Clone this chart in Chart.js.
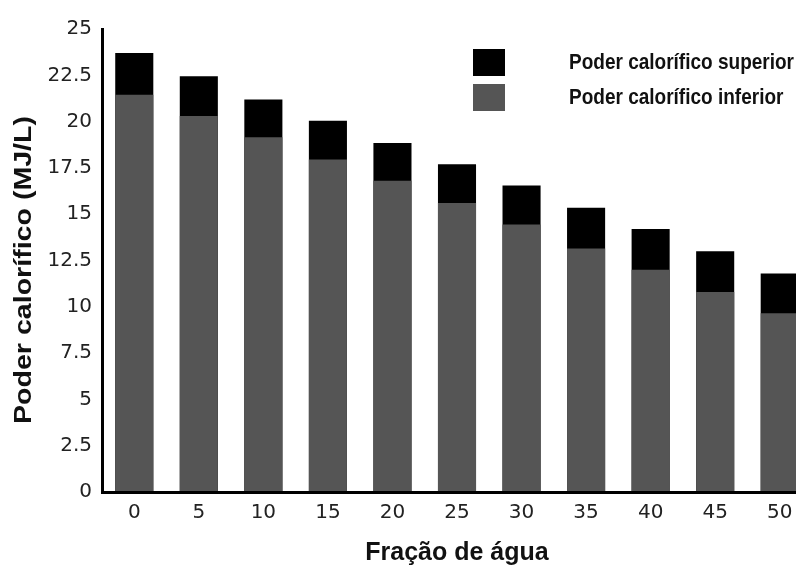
<!DOCTYPE html>
<html>
<head>
<meta charset="utf-8">
<script src="https://cdn.jsdelivr.net/npm/chart.js@4.4.0/dist/chart.umd.min.js"></script>
<style>
html,body{margin:0;padding:0;background:#fff;overflow:hidden;width:796px;height:567px}
#wrap{position:absolute;left:0;top:0;width:812px;height:567px}
</style>
</head>
<body>
<div id="wrap"><canvas id="c" width="812" height="567"></canvas></div>
<script>
const categories = ['0','5','10','15','20','25','30','35','40','45','50'];
const superiorValues = [23.7, 22.45, 21.2, 20.05, 18.85, 17.7, 16.55, 15.35, 14.2, 13.0, 11.8];
const inferiorValues = [21.45, 20.3, 19.15, 17.95, 16.8, 15.6, 14.45, 13.15, 12.0, 10.8, 9.65];
const yTickValues = [0, 2.5, 5, 7.5, 10, 12.5, 15, 17.5, 20, 22.5, 25];
const seriesLabels = ['Poder calorífico superior', 'Poder calorífico inferior'];
const xTitleText = 'Fração de água';
const yTitleText = 'Poder calorífico (MJ/L)';

const cornerLegend = {
  id: 'cornerLegend',
  afterDraw(chart) {
    const ctx = chart.ctx;
    const ds = chart.data.datasets;
    const boxX = 473, boxW = 32, boxH = 27, firstTop = 49, rowGap = 35, textX = 569, textW = 225;
    ctx.save();
    ctx.font = 'bold 22px "Liberation Sans Narrow", "Liberation Sans", Arial, sans-serif';
    const sx = textW / ctx.measureText(ds[0].label).width;
    ds.forEach((d, i) => {
      const top = firstTop + i * rowGap;
      ctx.fillStyle = d.backgroundColor;
      ctx.fillRect(boxX, top, boxW, boxH);
      ctx.save();
      ctx.translate(textX, top + 19.5);
      ctx.scale(sx, 1);
      ctx.fillStyle = '#111';
      ctx.textBaseline = 'alphabetic';
      ctx.textAlign = 'left';
      ctx.fillText(d.label, 0, 0);
      ctx.restore();
    });
    ctx.restore();
  }
};

const yTitlePlugin = {
  id: 'yTitle',
  afterDraw(chart) {
    const ctx = chart.ctx;
    ctx.save();
    ctx.font = 'bold 23px "Liberation Sans", Arial, sans-serif';
    const w = ctx.measureText(yTitleText).width;
    ctx.translate(25, 270);
    ctx.rotate(-Math.PI / 2);
    ctx.scale(308 / w, 1);
    ctx.fillStyle = '#111';
    ctx.textAlign = 'center';
    ctx.textBaseline = 'middle';
    ctx.fillText(yTitleText, 0, 0);
    ctx.restore();
  }
};

new Chart(document.getElementById('c'), {
  type: 'bar',
  data: {
    labels: categories,
    datasets: [
      { label: seriesLabels[0], data: superiorValues, backgroundColor: '#000000', order: 2,
        barPercentage: 0.59, categoryPercentage: 1 },
      { label: seriesLabels[1], data: inferiorValues, backgroundColor: '#555555', order: 1,
        barPercentage: 0.59, categoryPercentage: 1 }
    ]
  },
  options: {
    responsive: false,
    animation: false,
    devicePixelRatio: 1,
    layout: { padding: { top: 29, left: 0, right: 0, bottom: 0 } },
    plugins: { legend: { display: false }, tooltip: { enabled: false }, title: { display: false } },
    scales: {
      x: {
        stacked: true,
        grid: { display: false },
        border: { display: true, color: '#000', width: 3, z: 1 },
        ticks: { color: '#222', padding: 1, font: { family: '"DejaVu Sans"', size: 20 }, maxRotation: 0 },
        title: { display: true, text: xTitleText, color: '#111',
          font: { family: '"Liberation Sans", Arial, sans-serif', size: 25, weight: 'bold', lineHeight: 1.1 },
          padding: { top: 0, bottom: 0 } },
        afterFit(scale) { scale.height = 75; }
      },
      y: {
        stacked: false,
        min: 0, max: 25,
        grid: { display: false },
        border: { display: true, color: '#000', width: 3, z: 1 },
        afterBuildTicks(scale) { scale.ticks = yTickValues.map(v => ({ value: v })); },
        ticks: { color: '#222', padding: 2, font: { family: '"DejaVu Sans"', size: 20 },
          callback: (v) => String(v) },
        afterFit(scale) { scale.width = 102; }
      }
    }
  },
  plugins: [cornerLegend, yTitlePlugin]
});
</script>
</body>
</html>
